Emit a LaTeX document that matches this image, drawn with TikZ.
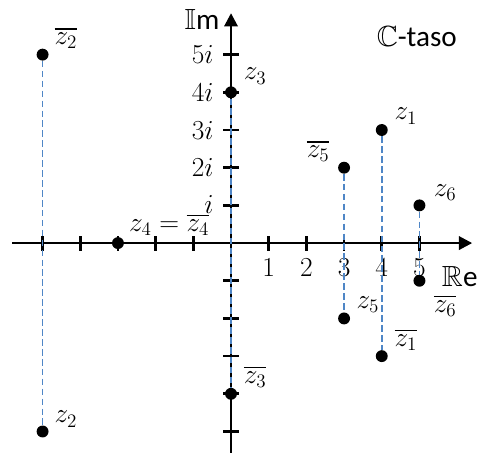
\documentclass[tikz,border=0pt]{standalone}
\usepackage{amssymb}
\usepackage{fontspec}
\setsansfont{Carlito}
\definecolor{mBlue}{HTML}{4F86C6}
\usetikzlibrary{arrows.meta, positioning}

\begin{document}
\begin{tikzpicture}[
  axis/.style={line width=2pt, -{Triangle[width=10pt,length=10pt]}},
  tickmark/.style={line width=2pt},
  conj/.style={draw=mBlue, line width=1.2pt, dash pattern=on 5pt off 2.5pt},
  dot/.style={circle, fill=black, inner sep=0pt, minimum size=9pt},
  lbl/.style={font=\fontsize{21}{25}\selectfont, inner sep=1pt},
  axlbl/.style={font=\fontsize{22}{26}\selectfont\sffamily, inner sep=1pt},
]
\useasboundingbox (-6.13,-5.57) rectangle (6.66,6.45);

% axes
\draw[axis] (-5.8,0) -- (6.4,0);
\draw[axis] (0,-5.57) -- (0,6.1);
\node[axlbl] (re) at (6.07,-0.9) {$\mathbb{R}$e};
\node[axlbl] (im) at (-0.77,5.94) {$\mathbb{I}$m};
\node[axlbl] (plane) at (4.93,5.49) {$\mathbb{C}$-taso};

\foreach \k in {-5,...,-1,1,2,...,5} {
  \draw[tickmark] (\k,-0.2) -- (\k,0.2);
  \draw[tickmark] (-0.2,\k) -- (0.2,\k);
}
\foreach \k in {1,...,5}
  \node[lbl] (re\k) at (\k,-0.66) {$\k$};
\node[lbl, anchor=east] (im1) at (-0.42,1.02) {$i$};
\foreach \k in {2,...,5}
  \node[lbl, anchor=east] (im\k) at (-0.42,\k) {$\k i$};

% points
\node[dot] (z1)  at (4,3)   {};
\node[dot] (z1b) at (4,-3)  {};
\node[dot] (z2)  at (-5,-5) {};
\node[dot] (z2b) at (-5,5)  {};
\node[dot] (z3)  at (0,4)   {};
\node[dot] (z3b) at (0,-4)  {};
\node[dot] (z4)  at (-3,0)  {};
\node[dot] (z5)  at (3,-2)  {};
\node[dot] (z5b) at (3,2)   {};
\node[dot] (z6)  at (5,1)   {};
\node[dot] (z6b) at (5,-1)  {};

% conjugate pairs
\draw[conj] (z2b) -- (z2);
\draw[conj] (z3) -- (z3b);
\draw[conj] (z5b) -- (z5);
\draw[conj] (z1) -- (z1b);
\draw[conj] (z6) -- (z6b);

% labels
\node[lbl] (l1)  at ([shift={(0.64,0.37)}]z1)   {$z_1$};
\node[lbl] (l1b) at ([shift={(0.64,0.43)}]z1b)  {$\overline{z_1}$};
\node[lbl] (l2)  at ([shift={(0.62,0.33)}]z2)   {$z_2$};
\node[lbl] (l2b) at ([shift={(0.62,0.44)}]z2b)  {$\overline{z_2}$};
\node[lbl] (l3)  at ([shift={(0.64,0.43)}]z3)   {$z_3$};
\node[lbl] (l3b) at ([shift={(0.64,0.45)}]z3b)  {$\overline{z_3}$};
\node[lbl] (l4)  at ([shift={(1.36,0.48)}]z4)   {$z_4=\overline{z_4}$};
\node[lbl] (l5)  at ([shift={(0.63,0.36)}]z5)   {$z_5$};
\node[lbl] (l5b) at ([shift={(-0.69,0.44)}]z5b) {$\overline{z_5}$};
\node[lbl] (l6)  at ([shift={(0.68,0.35)}]z6)   {$z_6$};
\node[lbl] (l6b) at ([shift={(0.68,-0.67)}]z6b) {$\overline{z_6}$};
\end{tikzpicture}
\end{document}
